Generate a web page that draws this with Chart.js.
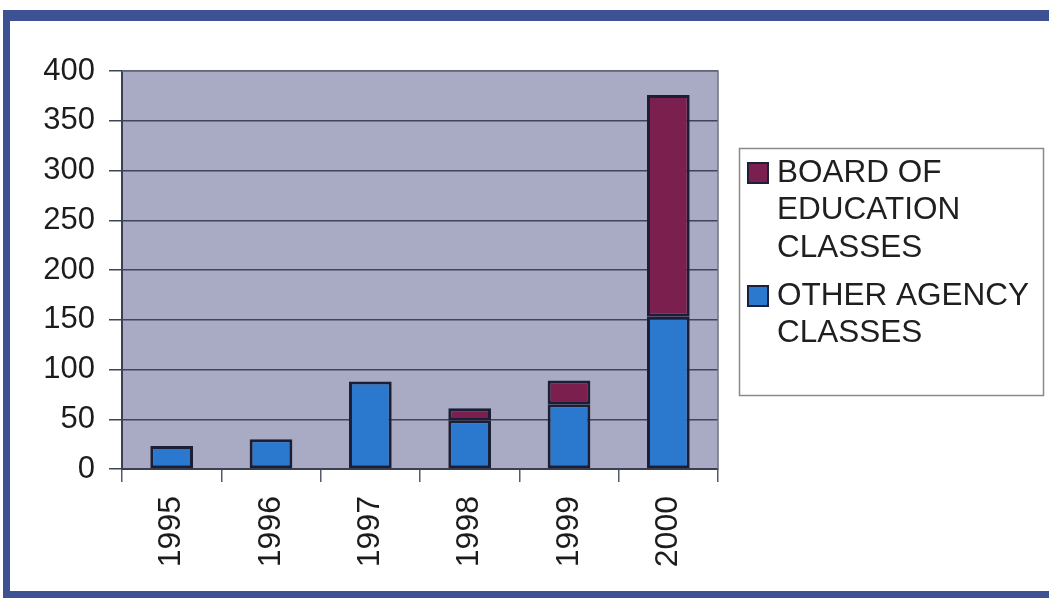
<!DOCTYPE html>
<html>
<head>
<meta charset="utf-8">
<script src="https://cdn.jsdelivr.net/npm/chart.js@4/dist/chart.umd.min.js"></script>
<style>
body{margin:0;background:#fff;overflow:hidden}
#frame{position:absolute;left:3px;top:10px;width:1100px;height:570px;border-style:solid;border-color:#3d5193;border-width:11px 0 8px 7px}
#wrap{position:absolute;left:0;top:0;width:1049px;height:598px}
</style>
</head>
<body>
<div id="frame"></div>
<div id="wrap"><canvas id="grafico" width="1049" height="598"></canvas></div>
<script>
let anos = ["1995","1996","1997","1998","1999","2000"]
let outrasAgencias = [23,30,88,49,65,153]
let boardEducation = [0,0,0,12,24,223]
let yTicks = [0,50,100,150,200,250,300,350,400]

let nomeOutras = ["OTHER AGENCY","CLASSES"]
let nomeBoard = ["BOARD OF","EDUCATION","CLASSES"]

let fonte = "'Liberation Sans', Arial, sans-serif"

// fundo cinza da area de plotagem e borda
let fundoPlot = {
id:"fundoPlot",
beforeDraw(chart){
let a = chart.chartArea
let ctx = chart.ctx
ctx.save()
ctx.fillStyle = "#a9aac4"
ctx.fillRect(a.left,a.top,a.right-a.left,a.bottom-a.top)
ctx.restore()
},
afterDatasetsDraw(chart){
let a = chart.chartArea
let ctx = chart.ctx
ctx.save()
ctx.strokeStyle = "#6d7185"
ctx.lineWidth = 1.5
ctx.beginPath()
ctx.moveTo(a.left,a.top)
ctx.lineTo(a.right,a.top)
ctx.lineTo(a.right,a.bottom)
ctx.stroke()
ctx.restore()
}
}

// legenda em caixa com texto em varias linhas
let legendaCaixa = {
id:"legendaCaixa",
afterDraw(chart){
let ctx = chart.ctx
ctx.save()
ctx.strokeStyle = "#8a8a8a"
ctx.lineWidth = 1.5
ctx.strokeRect(739.5,148.5,304,247)
let itens = [
{linhas:nomeBoard,cor:chart.data.datasets[1].backgroundColor},
{linhas:nomeOutras,cor:chart.data.datasets[0].backgroundColor}
]
ctx.font = "31.5px " + fonte
ctx.textBaseline = "middle"
let y = 173
itens.forEach(item=>{
ctx.fillStyle = item.cor
ctx.fillRect(748,y-10,20,20)
ctx.strokeStyle = "#1c2038"
ctx.lineWidth = 2
ctx.strokeRect(748,y-10,20,20)
ctx.fillStyle = "#1f1f1f"
item.linhas.forEach((l,i)=>{
ctx.fillText(l,777,y+i*37.5)
})
y += item.linhas.length*37.5 + 10.5
})
ctx.restore()
}
}

let ctx = document.getElementById("grafico")

new Chart(ctx,{
type:"bar",
data:{
labels:anos,
datasets:[{
label:"OTHER AGENCY CLASSES",
data:outrasAgencias,
backgroundColor:"#2b79cf",
borderColor:"#1b1e35",
borderWidth:3,
borderSkipped:false
},{
label:"BOARD OF EDUCATION CLASSES",
data:boardEducation,
backgroundColor:"#7b1f4f",
borderColor:"#1b1e35",
borderWidth:3,
borderSkipped:false
}]
},
options:{
responsive:false,
animation:false,
categoryPercentage:1,
barPercentage:0.43,
layout:{padding:{top:71,right:331,left:0,bottom:0}},
plugins:{legend:{display:false},tooltip:{enabled:false}},
scales:{
x:{
stacked:true,
afterFit(s){s.height = 129},
grid:{drawOnChartArea:false,drawTicks:true,tickLength:13,color:"#555a6a",lineWidth:1.5,offset:true},
border:{color:"#3a3f52",width:2},
ticks:{minRotation:90,maxRotation:90,padding:14,color:"#1c1c1c",font:{size:32,family:fonte}}
},
y:{
stacked:true,
min:0,
max:400,
afterFit(s){s.width = 122},
afterBuildTicks(s){s.ticks = yTicks.map(v=>({value:v}))},
grid:{color:"#3f4558",lineWidth:1.5,tickLength:13},
border:{color:"#3a3f52",width:2},
ticks:{padding:14,color:"#1c1c1c",font:{size:31,family:fonte}}
}
}
},
plugins:[fundoPlot,legendaCaixa]
})
</script>
</body>
</html>
